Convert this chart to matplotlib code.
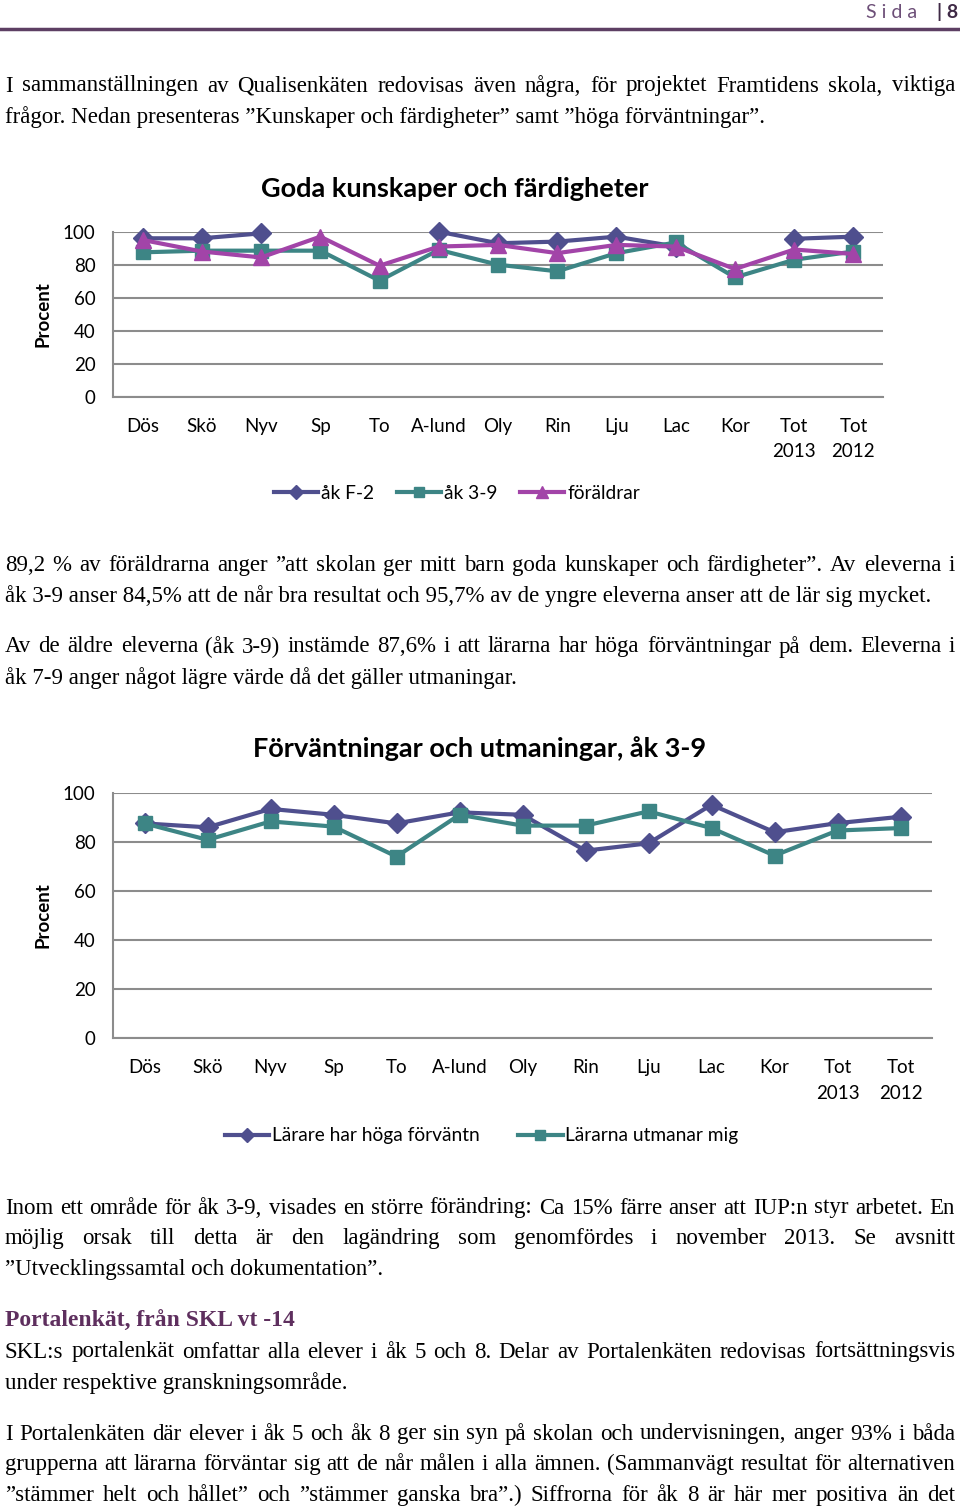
import numpy as np
import matplotlib
matplotlib.use('Agg')
import matplotlib.pyplot as plt
from matplotlib.lines import Line2D

W, H = 960, 1507

# ---- chart data ----
cats = ['Dös', 'Skö', 'Nyv', 'Sp', 'To', 'A-lund', 'Oly', 'Rin', 'Lju',
        'Lac', 'Kor', 'Tot\n2013', 'Tot\n2012']

ak_f2 = [96, 96, 99, np.nan, np.nan, 100, 93, 94, 97, 91, np.nan, 95.7, 97]
ak_39 = [87.5, 88.5, 88.5, 88.5, 70.3, 89, 80, 76, 87, 93.5, 72.3, 83, 88]
foraldrar = [95, 88, 84.4, 97, 79.4, 91, 92, 87, 92, 91, 77.4, 89.2, 86.5]

larare_hoga = [87.5, 85.9, 93.4, 91, 87.5, 92, 91, 76.4, 79.4, 95.1, 83.9, 87.6, 90.2]
larare_utmanar = [87.5, 80.8, 88.3, 86.2, 74, 91, 86.6, 86.6, 92.4, 85.6, 74.4, 84.6, 85.6]

yticks = [0, 20, 40, 60, 80, 100]

# ---- page text ----
par1 = ['I sammanställningen av Qualisenkäten redovisas även några, för projektet Framtidens skola, viktiga',
        'frågor. Nedan presenteras ”Kunskaper och färdigheter” samt ”höga förväntningar”.']
par2 = ['89,2 % av föräldrarna anger ”att skolan ger mitt barn goda kunskaper och färdigheter”. Av eleverna i',
        'åk 3-9 anser 84,5% att de når bra resultat och 95,7% av de yngre eleverna anser att de lär sig mycket.']
par3 = ['Av de äldre eleverna (åk 3-9) instämde 87,6% i att lärarna har höga förväntningar på dem. Eleverna i',
        'åk 7-9 anger något lägre värde då det gäller utmaningar.']
par4 = ['Inom ett område för åk 3-9, visades en större förändring: Ca 15% färre anser att IUP:n styr arbetet. En',
        'möjlig orsak till detta är den lagändring som genomfördes i november 2013. Se avsnitt',
        '”Utvecklingssamtal och dokumentation”.']
par5 = ['SKL:s portalenkät omfattar alla elever i åk 5 och 8. Delar av Portalenkäten redovisas fortsättningsvis',
        'under respektive granskningsområde.']
par6 = ['I Portalenkäten där elever i åk 5 och åk 8 ger sin syn på skolan och undervisningen, anger 93% i båda',
        'grupperna att lärarna förväntar sig att de når målen i alla ämnen. (Sammanvägt resultat för alternativen',
        '”stämmer helt och hållet” och ”stämmer ganska bra”.) Siffrorna för åk 8 är här mer positiva än det']

C_F2 = '#4f4f8e'
C_39 = '#3d8585'
C_PAR = '#a244a8'
GRID = '#8c8c8c'
SANS = 'Lato'
SERIF = 'Liberation Serif'
BODY = 16.5

fig = plt.figure(figsize=(W / 100, H / 100), dpi=100)
renderer = fig.canvas.get_renderer()


def fx(x):
    return x / W


def fy(y):
    return 1 - y / H


def text_line(line, y, justify, size=BODY):
    """Draw one line of body text, optionally spread over the full width."""
    left, right = 5, 955
    if not justify:
        fig.text(fx(left), fy(y), line, fontsize=size, family=SERIF, va='center')
        return
    words = line.split(' ')
    while True:
        items = [fig.text(0, fy(y), w, fontsize=size, family=SERIF, va='center') for w in words]
        widths = [t.get_window_extent(renderer).width for t in items]
        gap = (right - left - sum(widths)) / (len(words) - 1)
        if gap >= 3.5:
            break
        # too tight: shrink a little and retry
        for t in items:
            t.remove()
        size -= 0.25
    x = left
    for t, w in zip(items, widths):
        t.set_x(fx(x))
        x += w + gap


def paragraph(lines, y0, just):
    for i, (line, j) in enumerate(zip(lines, just)):
        text_line(line, y0 + i * 30.7, j)


def make_axes(left, right, top, bottom):
    ax = fig.add_axes([fx(left), fy(bottom), fx(right - left), (bottom - top) / H])
    ax.set_xlim(-0.5, len(cats) - 0.5)
    ax.set_ylim(0, 100)
    ax.set_yticks(yticks)
    ax.set_xticks(range(len(cats)))
    ax.set_xticklabels(cats, fontsize=13.5, family=SANS)
    for lab in ax.get_xticklabels():
        lab.set_linespacing(1.6)
    ax.set_yticklabels([str(v) for v in yticks], fontsize=13.5, family=SANS)
    ax.tick_params(length=0, pad=12.5)
    ax.tick_params(axis='x', pad=15)
    ax.grid(axis='y', color=GRID, lw=1.5)
    ax.set_axisbelow(True)
    for s in ['top', 'right']:
        ax.spines[s].set_visible(False)
    for s in ['left', 'bottom']:
        ax.spines[s].set_color(GRID)
        ax.spines[s].set_linewidth(1.5)
    return ax


# ---- header ----
fig.text(fx(917), fy(12), 'S i d a', fontsize=14, family=SANS, color='#6d4f78',
         ha='right', va='center')
fig.text(fx(958), fy(12), '| 8', fontsize=14, family=SANS, color='#3f2a46',
         ha='right', va='center', fontweight='bold')
fig.add_artist(Line2D([0, 1], [fy(29), fy(29)], color='#5d3f63', lw=2.5))

paragraph(par1, 86, [True, False])

# ---- chart 1 ----
ax1 = make_axes(113, 883, 231.7, 396.7)
x = np.arange(len(cats))
ax1.plot(x, ak_f2, color=C_F2, lw=3, marker='D', ms=10, label='åk F-2', clip_on=False)
ax1.plot(x, ak_39, color=C_39, lw=3, marker='s', ms=10.5, label='åk 3-9', clip_on=False)
ax1.plot(x, foraldrar, color=C_PAR, lw=3, marker='^', ms=11, label='föräldrar', clip_on=False)
fig.text(fx(455), fy(189), 'Goda kunskaper och färdigheter', fontsize=19.5, family=SANS,
         fontweight='bold', ha='center', va='center')
fig.text(fx(43), fy(314), 'Procent', fontsize=13.5, family=SANS, fontweight='bold',
         rotation=90, ha='center', va='center')
fig.legend(*ax1.get_legend_handles_labels(), loc='center', bbox_to_anchor=(fx(457), fy(493)),
           ncol=3, frameon=False, prop={'family': SANS, 'size': 13.8}, handlelength=2.3,
           handletextpad=0.15, columnspacing=1.2, markerscale=0.75)

paragraph(par2, 565, [True, False])
paragraph(par3, 647, [True, False])

# ---- chart 2 ----
ax2 = make_axes(113, 932, 792.7, 1038.3)
ax2.plot(x, larare_hoga, color=C_F2, lw=3, marker='D', ms=10, label='Lärare har höga förväntn',
         clip_on=False)
ax2.plot(x, larare_utmanar, color=C_39, lw=3, marker='s', ms=10.5, label='Lärarna utmanar mig',
         clip_on=False)
fig.text(fx(480), fy(749), 'Förväntningar och utmaningar, åk 3-9', fontsize=19.5, family=SANS,
         fontweight='bold', ha='center', va='center')
fig.text(fx(43), fy(915), 'Procent', fontsize=13.5, family=SANS, fontweight='bold',
         rotation=90, ha='center', va='center')
fig.legend(*ax2.get_legend_handles_labels(), loc='center', bbox_to_anchor=(fx(482), fy(1136)),
           ncol=2, frameon=False, prop={'family': SANS, 'size': 13.8}, handlelength=2.3,
           handletextpad=0.15, columnspacing=2.0, markerscale=0.75)

paragraph(par4, 1208, [True, True, False])

fig.text(fx(5), fy(1321), 'Portalenkät, från SKL vt -14', fontsize=17, family=SERIF,
         fontweight='bold', color='#5e2f5e', va='center')
paragraph(par5, 1352, [True, False])
paragraph(par6, 1434, [True, True, True])

fig.savefig('out.png', dpi=100)
